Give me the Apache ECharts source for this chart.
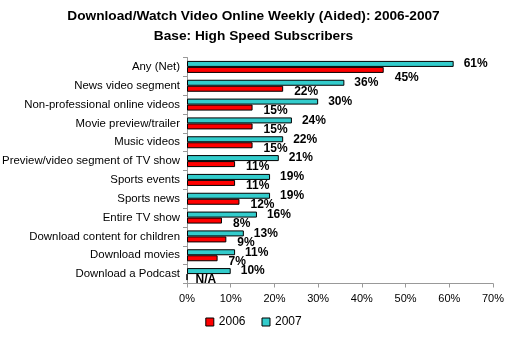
<!DOCTYPE html>
<html>
<head>
<meta charset="utf-8">
<script src="https://cdn.jsdelivr.net/npm/echarts@6/dist/echarts.min.js"></script>
<style>
  html, body { margin: 0; padding: 0; background: #fff; }
  #chart { width: 507px; height: 340px; }
</style>
</head>
<body>
<div id="chart"></div>
<script>
// Categories, top to bottom
const categories = [
  'Any (Net)',
  'News video segment',
  'Non-professional online videos',
  'Movie preview/trailer',
  'Music videos',
  'Preview/video segment of TV show',
  'Sports events',
  'Sports news',
  'Entire TV show',
  'Download content for children',
  'Download movies',
  'Download a Podcast'
];
// Percent of subscribers; null = not asked that year (N/A)
const values2006 = [45, 22, 15, 15, 15, 11, 11, 12, 8, 9, 7, null];
const values2007 = [61, 36, 30, 24, 22, 21, 19, 19, 16, 13, 11, 10];
const xTicks = [0, 10, 20, 30, 40, 50, 60, 70];

const FONT = 'Arial, "Liberation Sans", sans-serif';
const chart = echarts.init(document.getElementById('chart'));

const labelBase = {
  show: true,
  fontFamily: FONT,
  fontWeight: 'bold',
  fontSize: 12,
  color: '#000'
};

// 2006 items: N/A entries become zero-length bars labelled "N/A";
// the first label sits a little lower to clear the longer 2007 bar.
const data2006 = values2006.map((v, i) => {
  if (v === null) return { value: 0, na: true, label: { offset: [3, 3] } };
  if (i === 0) return { value: v, label: { offset: [6, 8] } };
  return v;
});

chart.setOption({
  animation: false,
  title: {
    text: 'Download/Watch Video Online Weekly (Aided): 2006-2007\nBase: High Speed Subscribers',
    left: 'center',
    top: 1,
    textStyle: {
      fontFamily: FONT,
      fontWeight: 'bold',
      fontSize: 13.7,
      lineHeight: 20,
      color: '#000'
    }
  },
  legend: {
    bottom: 7,
    left: 'center',
    itemWidth: 8,
    itemHeight: 8,
    itemGap: 16,
    icon: 'rect',
    textStyle: { fontFamily: FONT, fontSize: 12, color: '#000' },
    data: [
      { name: '2006', itemStyle: { borderColor: '#000', borderWidth: 1 } },
      { name: '2007', itemStyle: { borderColor: '#000', borderWidth: 1 } }
    ]
  },
  grid: { left: 187, right: 14, top: 57.5, bottom: 56.5, outerBoundsMode: 'none' },
  xAxis: {
    type: 'value',
    min: xTicks[0],
    max: xTicks[xTicks.length - 1],
    interval: 10,
    splitLine: { show: false },
    axisLine: { show: true, lineStyle: { color: '#999' } },
    axisTick: { show: true, length: 4, lineStyle: { color: '#999' } },
    axisLabel: {
      formatter: '{value}%',
      fontFamily: FONT,
      fontSize: 11,
      color: '#000',
      margin: 10
    }
  },
  yAxis: {
    type: 'category',
    inverse: true,
    data: categories,
    axisLine: { show: true, lineStyle: { color: '#999' } },
    axisTick: { show: true, length: 4, inside: false, lineStyle: { color: '#999' } },
    axisLabel: {
      fontFamily: FONT,
      fontSize: 11.4,
      color: '#000',
      margin: 7
    }
  },
  series: [
    {
      name: '2007',
      type: 'bar',
      barWidth: 6,
      barGap: '0%',
      z: 3,
      itemStyle: { color: '#33CCCC', borderColor: '#000', borderWidth: 1 },
      label: Object.assign({}, labelBase, {
        position: 'right',
        offset: [5, 0],
        formatter: '{c}%'
      }),
      data: values2007
    },
    {
      name: '2006',
      type: 'bar',
      barWidth: 6,
      barGap: '0%',
      z: 2,
      itemStyle: { color: '#FF0000', borderColor: '#000', borderWidth: 1 },
      label: Object.assign({}, labelBase, {
        position: 'right',
        offset: [6, 3],
        formatter: p => p.data && p.data.na ? 'N/A' : p.value + '%'
      }),
      data: data2006
    }
  ]
});
</script>
</body>
</html>
